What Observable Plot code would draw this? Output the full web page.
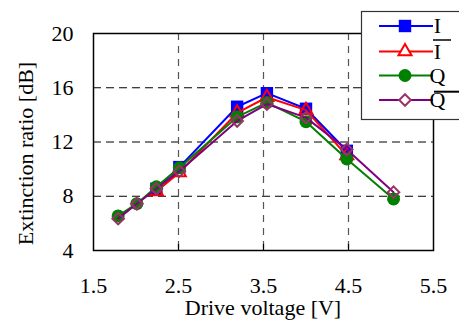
<!DOCTYPE html>
<html>
<head>
<meta charset="utf-8">
<script src="https://cdn.jsdelivr.net/npm/d3@7"></script>
<script src="https://cdn.jsdelivr.net/npm/@observablehq/plot@0.6"></script>
<style>
  html, body { margin: 0; padding: 0; background: white; }
  svg text { font-family: "Liberation Serif", "Times New Roman", serif !important; }
</style>
</head>
<body>
<div id="chart"></div>
<script>
// ---- data ----
const xI    = [2.24, 2.51, 3.19, 3.54, 4.00, 4.48];
const yI    = [8.55, 10.15, 14.6, 15.6, 14.45, 11.35];
const xIbar = [2.24, 2.51, 3.19, 3.54, 4.00, 4.48];
const yIbar = [8.35, 9.75, 14.15, 15.3, 14.35, 11.0];
const xQ    = [1.79, 2.01, 2.24, 2.51, 3.19, 3.54, 4.00, 4.48, 5.03];
const yQ    = [6.55, 7.45, 8.7, 10.1, 13.85, 14.9, 13.5, 10.75, 7.8];
const xQbar = [1.79, 2.01, 2.24, 2.51, 3.19, 3.54, 4.00, 4.48, 5.03];
const yQbar = [6.35, 7.45, 8.55, 9.85, 13.55, 14.8, 13.8, 11.45, 8.3];

const xTicks = [1.5, 2.5, 3.5, 4.5, 5.5];
const xGrid = [2.5, 3.5, 4.5];
const yTicks = [4, 8, 12, 16, 20];
const yGrid = [8, 12, 16];

const xLabel = "Drive voltage [V]";
const yLabel = "Extinction ratio [dB]";

const FONT = "'Liberation Serif', 'Times New Roman', serif";

const toRows = (xs, ys) => xs.map((x, i) => ({x, y: ys[i]}));
const series = [
  {name: "I", bar: false, rows: toRows(xI, yI), line: "#0000ff", symbol: "square", fill: "#0000ff", stroke: "none", r: 7, sw: 0},
  {name: "I", bar: true, rows: toRows(xIbar, yIbar), line: "#ff0000", symbol: "triangle2", fill: "none", stroke: "#ff0000", r: 6.2, sw: 2},
  {name: "Q", bar: false, rows: toRows(xQ, yQ), line: "#008000", symbol: "circle", fill: "#008000", stroke: "none", r: 6.5, sw: 0},
  {name: "Q", bar: true, rows: toRows(xQbar, yQbar), line: "#800080", symbol: "diamond2", fill: "none", stroke: "#993366", r: 5.2, sw: 2}
];

const marks = [
  Plot.gridY(yGrid, {stroke: "black", strokeOpacity: 1, strokeWidth: 1, strokeDasharray: "8,5"}),
  Plot.gridX(xGrid, {stroke: "#555", strokeOpacity: 1, strokeWidth: 1.2, strokeDasharray: "7,6"}),
  Plot.axisX(xGrid, {tickSize: -6, tickFormat: () => "", label: null, stroke: "black", strokeWidth: 1.2}),
  Plot.axisX(xTicks, {tickSize: 0, tickPadding: 27, tickFormat: d3.format(".1f"), label: null, fontSize: 22, fontFamily: FONT}),
  Plot.axisY(yTicks, {tickSize: 0, tickPadding: 20, label: null, fontSize: 22, fontFamily: FONT})
];
for (const s of series) {
  marks.push(Plot.line(s.rows, {x: "x", y: "y", stroke: s.line, strokeWidth: 2}));
  marks.push(Plot.dot(s.rows, {x: "x", y: "y", symbol: () => s.symbol, r: s.r, fill: s.fill, stroke: s.stroke, strokeWidth: s.sw}));
}
marks.push(Plot.frame({stroke: "black", strokeWidth: 1.5}));

const chart = Plot.plot({
  width: 459,
  height: 324,
  marginLeft: 93,
  marginRight: 26,
  marginTop: 33,
  marginBottom: 74,
  x: {domain: [1.5, 5.5], label: null},
  y: {domain: [4, 20], label: null},
  style: {fontFamily: FONT, fontSize: "22px", color: "black", background: "white", overflow: "visible"},
  marks
});
document.getElementById("chart").appendChild(chart);

// ---- axis titles and legend ----
const svg = d3.select(chart);
svg.append("text")
  .attr("x", 263).attr("y", 315)
  .attr("text-anchor", "middle")
  .style("font-family", FONT).style("font-size", "22px")
  .attr("fill", "black")
  .text(xLabel);
svg.append("text")
  .attr("transform", "translate(33,153.5) rotate(-90)")
  .attr("text-anchor", "middle")
  .style("font-family", FONT).style("font-size", "22px")
  .attr("fill", "black")
  .text(yLabel);

const lg = svg.append("g");
lg.append("rect")
  .attr("x", 361.5).attr("y", 11.5).attr("width", 110).attr("height", 108)
  .attr("fill", "white").attr("stroke", "#333").attr("stroke-width", 1.2);
const rowY = [26, 51.5, 75.5, 100];
const symMap = {square: d3.symbolSquare, triangle2: d3.symbolTriangle2, circle: d3.symbolCircle, diamond2: d3.symbolDiamond2};
series.forEach((s, i) => {
  const cy = rowY[i];
  lg.append("line").attr("x1", 379).attr("x2", 433).attr("y1", cy).attr("y2", cy)
    .attr("stroke", s.line).attr("stroke-width", 2);
  lg.append("path")
    .attr("transform", `translate(405,${cy})`)
    .attr("d", d3.symbol(symMap[s.symbol], s.r * s.r * Math.PI)())
    .attr("fill", s.fill === "none" ? "white" : s.fill)
    .attr("stroke", s.stroke).attr("stroke-width", s.sw);
  lg.append("text")
    .attr("x", 437.5).attr("y", cy + 7)
    .style("font-family", FONT).style("font-size", "22px")
    .attr("fill", "black")
    .text(s.name);
  if (s.bar) {
    const isI = s.name === "I";
    const x1 = isI ? 433 : 434;
    const x2 = isI ? 451 : 460;
    const oy = isI ? cy - 11.5 : cy - 8.3;
    lg.append("line").attr("x1", x1).attr("x2", x2)
      .attr("y1", oy).attr("y2", oy)
      .attr("stroke", "black").attr("stroke-width", isI ? 1.5 : 2);
  }
});
</script>
</body>
</html>
